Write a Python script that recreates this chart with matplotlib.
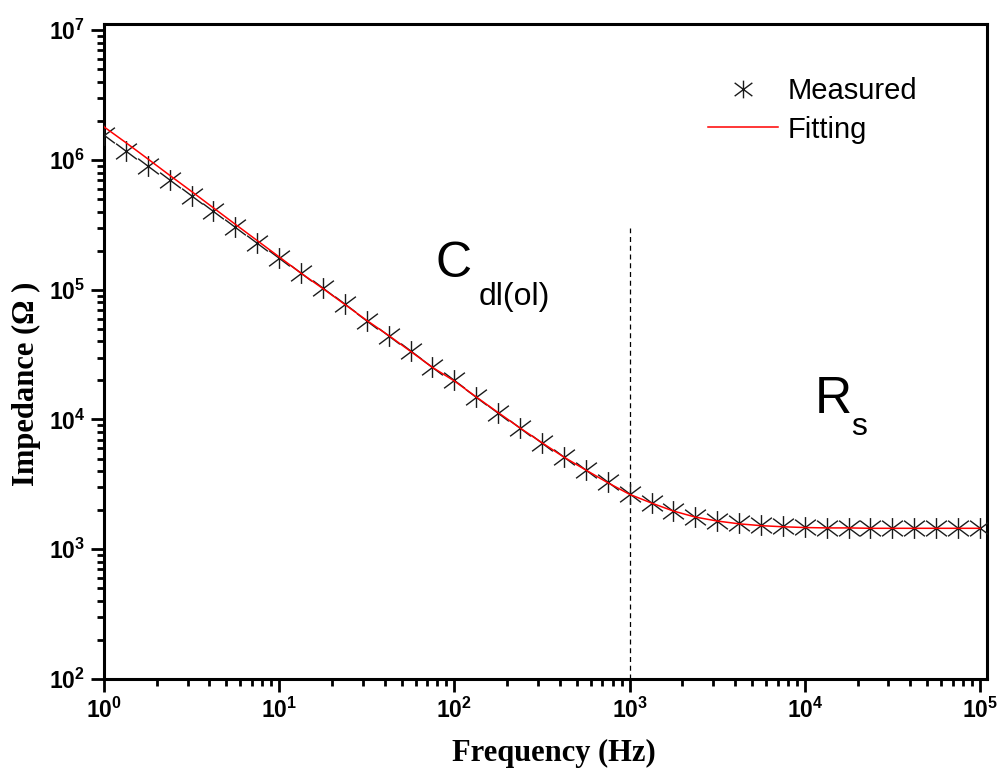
import math
import matplotlib
matplotlib.use("Agg")
import matplotlib.pyplot as plt
from matplotlib.path import Path
from matplotlib.ticker import FixedLocator, FuncFormatter, LogLocator, NullFormatter

# Frequencies of the impedance sweep (8 points per decade), Hz
freq = [1, 1.334, 1.778, 2.371, 3.162, 4.217, 5.623, 7.499,
        10, 13.34, 17.78, 23.71, 31.62, 42.17, 56.23, 74.99,
        100, 133.4, 177.8, 237.1, 316.2, 421.7, 562.3, 749.9,
        1000, 1334, 1778, 2371, 3162, 4217, 5623, 7499,
        10000, 13340, 17780, 23710, 31620, 42170, 56230, 74990, 100000]

# Measured impedance magnitude, ohm
measured = [1.56e6, 1.17e6, 9.04e5, 6.97e5, 5.28e5, 4.05e5, 3.06e5, 2.29e5,
            1.77e5, 1.34e5, 1.03e5, 7.7e4, 5.75e4, 4.43e4, 3.35e4, 2.52e4,
            2.0e4, 1.49e4, 1.13e4, 8.57e3, 6.6e3, 5.13e3, 4.1e3, 3.27e3,
            2.65e3, 2.29e3, 1.97e3, 1.77e3, 1.66e3, 1.58e3, 1.53e3, 1.50e3,
            1.48e3, 1.47e3, 1.46e3, 1.46e3, 1.45e3, 1.45e3, 1.45e3, 1.45e3, 1.45e3]

# Equivalent-circuit fit, ohm
fitting = [1.80e6, 1.36e6, 1.02e6, 7.62e5, 5.72e5, 4.27e5, 3.19e5, 2.39e5,
           1.79e5, 1.34e5, 1.02e5, 7.7e4, 5.8e4, 4.44e4, 3.35e4, 2.52e4,
           1.98e4, 1.49e4, 1.13e4, 8.6e3, 6.62e3, 5.13e3, 4.08e3, 3.26e3,
           2.65e3, 2.27e3, 1.97e3, 1.77e3, 1.65e3, 1.57e3, 1.52e3, 1.49e3,
           1.47e3, 1.46e3, 1.46e3, 1.45e3, 1.45e3, 1.45e3, 1.45e3, 1.45e3, 1.45e3]

series_labels = ["Measured", "Fitting"]
region_labels = [("C", "dl(ol)"), ("R", "s")]
boundary_freq = 1000
boundary_top = 3.0e5
x_decades = [0, 1, 2, 3, 4, 5]
y_decades = [2, 3, 4, 5, 6, 7]

W, H = 998, 769
plt.rcParams["font.family"] = ["Liberation Sans", "DejaVu Sans"]

fig = plt.figure(figsize=(W / 100, H / 100), dpi=100)
ax = fig.add_axes([104 / W, 1 - 679 / H, (987 - 104) / W, (679 - 24) / H])


def fx(px):
    return px / W


def fy(py):
    return 1 - py / H


# six-spoke asterisk marker
star = Path([(0, -1), (0, 1), (-1, -0.75), (1, 0.75), (-1, 0.75), (1, -0.75)],
            [Path.MOVETO, Path.LINETO, Path.MOVETO, Path.LINETO, Path.MOVETO, Path.LINETO])

ax.plot(freq, measured, linestyle="none", marker=star, markersize=15,
        markeredgewidth=1.0, color="#1a1a1a", label=series_labels[0], zorder=3)
ax.plot(freq, fitting, color="red", linewidth=1.1, label=series_labels[1], zorder=4)

ax.vlines(boundary_freq, 10 ** y_decades[0], boundary_top, colors="black",
          linestyles=(0, (4, 3)), linewidth=0.9)

ax.set_xscale("log")
ax.set_yscale("log")
ax.set_xlim(1, 10 ** 5.04)
ax.set_ylim(100, 10 ** 7.048)

fmt = FuncFormatter(lambda v, pos: r"$\mathdefault{10^{%d}}$" % round(math.log10(v)))
ax.xaxis.set_major_locator(FixedLocator([10.0 ** k for k in x_decades]))
ax.yaxis.set_major_locator(FixedLocator([10.0 ** k for k in y_decades]))
ax.xaxis.set_major_formatter(fmt)
ax.yaxis.set_major_formatter(fmt)
ax.xaxis.set_minor_locator(LogLocator(base=10, subs=range(2, 10), numticks=20))
ax.yaxis.set_minor_locator(LogLocator(base=10, subs=range(2, 10), numticks=20))
ax.xaxis.set_minor_formatter(NullFormatter())
ax.yaxis.set_minor_formatter(NullFormatter())

ax.tick_params(which="major", direction="out", length=9.5, width=2.0, pad=4,
               labelsize=16.5, top=False, right=False)
ax.tick_params(which="minor", direction="out", length=5, width=2.0, top=False, right=False)
for lab in ax.get_xticklabels() + ax.get_yticklabels():
    lab.set_fontweight("bold")
for s in ax.spines.values():
    s.set_linewidth(2.2)

# axis titles
fig.text(fx(554), fy(761.5), "Frequency (Hz)", ha="center", va="baseline",
         fontsize=22, fontweight="bold", family=["Liberation Serif", "DejaVu Serif"])
fig.text(fx(34), fy(384), "Impedance (\u03a9 )", ha="center", va="baseline",
         rotation=90, rotation_mode="anchor", fontsize=22, fontweight="bold",
         family=["Liberation Serif", "DejaVu Serif"])

# region annotations
fig.text(fx(436), fy(277), region_labels[0][0], fontsize=36, va="baseline", ha="left")
fig.text(fx(479), fy(305), region_labels[0][1], fontsize=23, va="baseline", ha="left")
fig.text(fx(815), fy(413), region_labels[1][0], fontsize=37, va="baseline", ha="left")
fig.text(fx(851), fy(435), region_labels[1][1], fontsize=23, va="baseline", ha="left")

leg = ax.legend(loc="upper left", bbox_to_anchor=(fx(708), fy(77)),
                bbox_transform=fig.transFigure, frameon=False, fontsize=21,
                borderpad=0, borderaxespad=0, handlelength=2.4, handletextpad=0.34,
                labelspacing=0.36, markerscale=0.85)

fig.savefig("out.png", dpi=100)
